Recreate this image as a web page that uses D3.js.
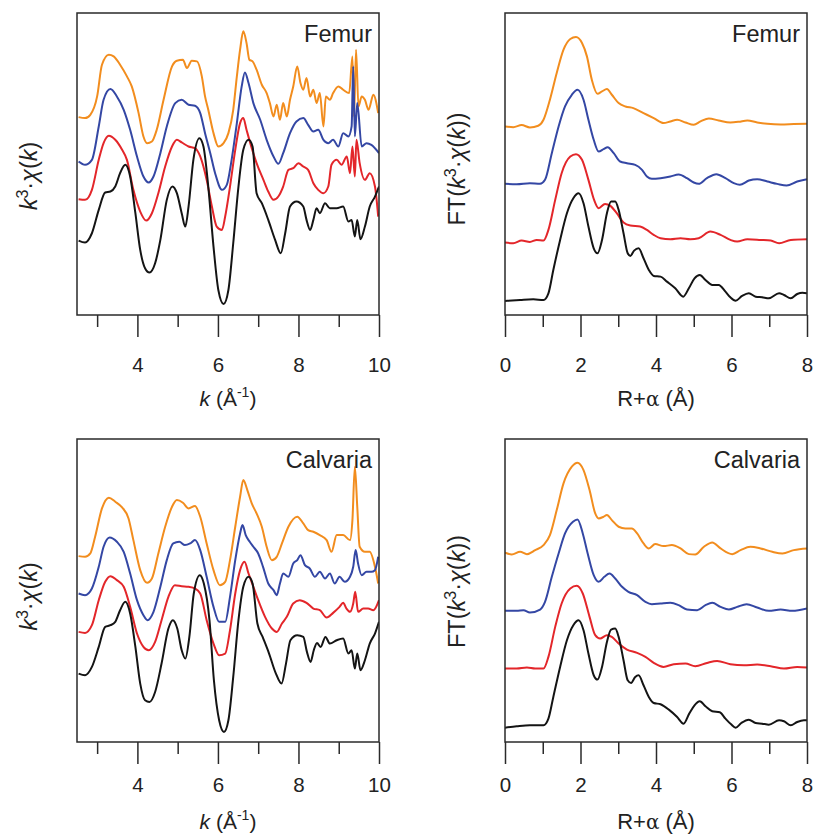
<!DOCTYPE html>
<html>
<head>
<meta charset="utf-8">
<script src="https://cdn.jsdelivr.net/npm/d3@7"></script>
<style>
  html, body { margin: 0; padding: 0; background: #fff; }
  svg { display: block; font-family: "Liberation Sans", Arial, sans-serif; }
</style>
</head>
<body>
<svg id="fig" width="813" height="840"></svg>
<script>
// EXAFS spectra (k-space, k^3-weighted) and their Fourier transforms, stacked with offsets.
// Each series: [x, intensity (a.u., including stacking offset)].
const seriesColors = ["#f28d1e", "#3447a4", "#e3262a", "#141414"]; // orange, blue, red, black

const kMajorTicks = [4, 6, 8, 10];
const kMinorTicks = [3, 5, 7, 9];
const rMajorTicks = [0, 2, 4, 6, 8];
const rMinorTicks = [1, 3, 5, 7];

// ---- Femur, k-space ----
const femurChiOrange = [[2.54,5.93],[2.7,5.90],[2.83,6.00],[3.0,6.55],[3.12,7.50],[3.29,7.80],[3.41,7.75],[3.57,7.50],[3.74,7.15],[3.86,6.85],[4.03,6.05],[4.15,5.35],[4.24,5.15],[4.36,5.20],[4.48,5.55],[4.65,6.45],[4.86,7.45],[4.98,7.62],[5.13,7.65],[5.23,7.40],[5.35,7.62],[5.48,7.60],[5.6,7.15],[5.68,6.55],[5.76,6.15],[5.89,5.45],[6.01,5.05],[6.14,5.15],[6.26,5.45],[6.38,6.15],[6.47,7.15],[6.55,7.95],[6.63,8.50],[6.71,8.15],[6.78,7.65],[6.86,7.60],[6.96,7.35],[7.09,6.90],[7.21,6.65],[7.29,6.35],[7.38,5.95],[7.46,6.30],[7.54,5.85],[7.62,6.35],[7.71,5.95],[7.79,6.45],[7.87,6.85],[7.97,7.45],[8.05,6.95],[8.12,6.75],[8.2,7.10],[8.29,6.55],[8.37,6.75],[8.45,6.35],[8.53,6.65],[8.62,5.65],[8.68,6.55],[8.78,6.45],[8.86,6.65],[8.99,6.85],[9.11,6.75],[9.26,6.65],[9.34,7.75],[9.38,5.95],[9.43,7.95],[9.49,6.25],[9.57,6.55],[9.65,6.45],[9.74,6.15],[9.86,6.60],[9.98,6.05]];
const femurChiBlue = [[2.54,4.60],[2.7,4.50],[2.87,4.65],[3.04,5.65],[3.16,6.45],[3.33,6.77],[3.49,6.55],[3.66,6.15],[3.82,5.55],[3.99,4.75],[4.15,4.15],[4.28,3.97],[4.4,4.15],[4.57,4.85],[4.73,5.65],[4.94,6.35],[5.1,6.45],[5.27,6.30],[5.43,6.27],[5.56,6.05],[5.68,5.45],[5.81,4.85],[5.93,4.25],[6.1,3.75],[6.22,3.90],[6.34,4.65],[6.47,5.75],[6.59,6.85],[6.67,7.27],[6.76,6.95],[6.88,6.35],[7.05,5.85],[7.21,5.25],[7.38,4.75],[7.5,4.53],[7.62,4.85],[7.79,5.45],[7.95,5.80],[8.12,5.90],[8.24,5.70],[8.37,5.50],[8.49,5.55],[8.62,5.25],[8.74,5.15],[8.86,5.25],[8.99,5.05],[9.11,5.45],[9.24,5.35],[9.32,5.65],[9.36,7.45],[9.4,5.35],[9.46,6.35],[9.57,5.05],[9.69,5.15],[9.81,5.10],[10.0,4.85]];
const femurChiRed = [[2.54,3.47],[2.7,3.45],[2.87,3.75],[3.04,4.65],[3.16,5.15],[3.29,5.37],[3.45,5.25],[3.62,4.95],[3.74,4.65],[3.9,3.75],[4.07,3.10],[4.22,2.83],[4.36,3.05],[4.52,3.65],[4.69,4.45],[4.86,5.05],[4.98,5.25],[5.1,5.17],[5.27,5.05],[5.43,5.00],[5.56,4.75],[5.72,4.05],[5.85,3.25],[5.97,2.65],[6.1,2.55],[6.18,2.95],[6.3,3.85],[6.43,4.95],[6.55,5.75],[6.63,5.90],[6.71,5.55],[6.84,5.00],[6.96,4.55],[7.13,4.05],[7.25,3.70],[7.38,3.45],[7.5,3.55],[7.62,3.85],[7.75,4.35],[7.87,4.40],[8.0,4.55],[8.12,4.45],[8.24,4.35],[8.37,3.95],[8.49,3.75],[8.62,3.65],[8.74,3.85],[8.82,4.50],[8.95,4.65],[9.07,4.50],[9.2,4.75],[9.28,4.25],[9.34,5.05],[9.4,4.15],[9.44,5.25],[9.52,4.55],[9.65,4.05],[9.77,4.25],[9.9,3.85],[9.98,2.95]];
const femurChiBlack = [[2.54,2.23],[2.7,2.17],[2.87,2.45],[3.04,3.15],[3.2,3.67],[3.33,3.70],[3.45,3.85],[3.57,4.25],[3.7,4.50],[3.82,4.15],[3.95,3.05],[4.07,1.95],[4.19,1.40],[4.3,1.27],[4.44,1.55],[4.57,2.25],[4.73,3.45],[4.87,3.85],[4.98,3.65],[5.1,3.05],[5.19,2.65],[5.27,3.25],[5.39,4.65],[5.54,5.30],[5.64,5.05],[5.76,3.85],[5.89,2.05],[6.01,0.75],[6.14,0.33],[6.26,0.75],[6.38,2.15],[6.51,3.85],[6.63,4.95],[6.76,5.25],[6.86,5.05],[6.96,3.65],[7.09,3.35],[7.25,2.85],[7.42,2.25],[7.56,1.85],[7.67,2.45],[7.79,3.25],[7.95,3.40],[8.12,3.25],[8.2,2.85],[8.29,2.55],[8.37,2.85],[8.45,3.20],[8.53,3.05],[8.66,3.35],[8.78,3.20],[8.95,3.20],[9.11,3.25],[9.24,2.80],[9.32,2.85],[9.4,2.35],[9.46,2.85],[9.54,2.27],[9.65,2.65],[9.77,3.25],[9.9,3.55],[10.0,3.85]];

// ---- Femur, R-space ----
const femurFtOrange = [[0,5.65],[0.22,5.63],[0.44,5.69],[0.66,5.62],[0.88,5.67],[1.02,5.85],[1.19,6.45],[1.37,7.25],[1.55,7.95],[1.73,8.27],[1.88,8.33],[2.04,8.15],[2.17,7.75],[2.3,7.05],[2.45,6.63],[2.57,6.70],[2.7,6.77],[2.83,6.60],[3.01,6.35],[3.19,6.25],[3.4,6.20],[3.67,6.05],[3.94,5.90],[4.2,5.75],[4.38,5.80],[4.56,5.85],[4.78,5.77],[5.0,5.70],[5.18,5.80],[5.4,5.89],[5.66,5.83],[5.97,5.77],[6.19,5.79],[6.42,5.83],[6.68,5.77],[6.95,5.73],[7.3,5.71],[7.65,5.72],[8.0,5.73]];
const femurFtBlue = [[0,3.93],[0.31,3.92],[0.66,3.95],[0.93,3.93],[1.06,4.05],[1.24,4.85],[1.42,5.65],[1.59,6.25],[1.77,6.60],[1.92,6.75],[2.08,6.45],[2.21,5.85],[2.35,5.25],[2.48,4.90],[2.61,4.97],[2.72,5.03],[2.88,4.85],[3.05,4.60],[3.23,4.55],[3.45,4.50],[3.63,4.35],[3.76,4.15],[3.89,4.08],[4.12,4.10],[4.38,4.15],[4.6,4.21],[4.82,4.10],[5.0,3.97],[5.13,3.93],[5.35,4.10],[5.6,4.22],[5.84,4.10],[6.06,3.95],[6.22,3.90],[6.46,4.03],[6.68,4.07],[6.95,4.00],[7.21,3.93],[7.46,3.88],[7.74,4.00],[8.0,4.07]];
const femurFtRed = [[0,2.17],[0.22,2.15],[0.44,2.23],[0.66,2.19],[0.84,2.25],[1.02,2.23],[1.15,2.55],[1.33,3.45],[1.5,4.25],[1.73,4.75],[1.88,4.82],[2.04,4.65],[2.21,4.05],[2.36,3.45],[2.48,3.20],[2.65,3.33],[2.79,3.27],[2.96,3.05],[3.14,2.77],[3.32,2.68],[3.58,2.65],[3.76,2.55],[3.94,2.40],[4.12,2.30],[4.38,2.27],[4.65,2.30],[4.91,2.27],[5.13,2.30],[5.44,2.50],[5.71,2.40],[5.97,2.25],[6.15,2.20],[6.42,2.27],[6.77,2.25],[7.04,2.23],[7.26,2.15],[7.57,2.25],[8.0,2.27]];
const femurFtBlack = [[0,0.42],[0.4,0.45],[0.75,0.47],[1.02,0.45],[1.15,0.65],[1.28,1.35],[1.46,2.25],[1.64,3.05],[1.81,3.50],[1.95,3.65],[2.08,3.35],[2.21,2.65],[2.35,2.00],[2.45,1.85],[2.57,2.25],[2.7,3.05],[2.81,3.40],[2.92,3.40],[3.01,3.15],[3.14,2.45],[3.25,1.85],[3.32,1.77],[3.42,1.93],[3.54,2.00],[3.67,1.70],[3.81,1.35],[3.94,1.17],[4.12,1.15],[4.29,1.00],[4.51,0.80],[4.72,0.55],[4.87,0.80],[5.02,1.10],[5.16,1.20],[5.31,1.05],[5.49,0.90],[5.66,0.90],[5.84,0.70],[5.97,0.53],[6.11,0.43],[6.28,0.57],[6.46,0.65],[6.64,0.55],[6.81,0.53],[6.99,0.50],[7.26,0.65],[7.39,0.60],[7.57,0.50],[7.74,0.63],[7.88,0.67],[8.0,0.65]];

// ---- Calvaria, k-space ----
const calvariaChiOrange = [[2.54,5.57],[2.7,5.55],[2.83,5.65],[2.95,6.15],[3.12,7.00],[3.29,7.32],[3.45,7.20],[3.62,7.03],[3.78,6.70],[3.9,6.05],[4.07,5.15],[4.24,4.77],[4.36,4.90],[4.52,5.65],[4.69,6.45],[4.86,7.05],[4.98,7.25],[5.13,7.17],[5.27,7.00],[5.43,7.07],[5.56,6.75],[5.72,5.95],[5.89,5.15],[6.05,4.70],[6.18,4.80],[6.3,5.45],[6.43,6.45],[6.55,7.35],[6.63,7.85],[6.73,7.55],[6.84,7.15],[6.96,6.85],[7.09,6.45],[7.21,5.85],[7.34,5.45],[7.46,5.55],[7.59,5.95],[7.75,6.45],[7.97,6.75],[8.12,6.55],[8.24,6.35],[8.37,6.30],[8.53,6.20],[8.7,6.05],[8.82,5.70],[8.95,6.20],[9.11,6.20],[9.28,6.05],[9.34,6.65],[9.4,8.25],[9.46,7.05],[9.52,5.85],[9.65,5.70],[9.77,5.70],[9.9,5.25],[9.98,4.75]];
const calvariaChiBlue = [[2.54,4.45],[2.7,4.40],[2.87,4.60],[3.04,5.25],[3.16,5.85],[3.31,6.13],[3.49,6.00],[3.66,5.70],[3.82,5.05],[3.99,4.25],[4.15,3.80],[4.25,3.65],[4.4,3.90],[4.57,4.65],[4.73,5.45],[4.89,5.95],[5.04,6.00],[5.18,5.90],[5.31,5.95],[5.43,6.05],[5.56,5.75],[5.72,4.95],[5.89,4.05],[6.03,3.60],[6.18,3.60],[6.3,4.35],[6.43,5.45],[6.55,6.25],[6.61,6.50],[6.69,6.20],[6.79,6.00],[6.88,5.85],[7.0,5.65],[7.12,5.25],[7.25,4.75],[7.38,4.55],[7.46,4.40],[7.54,4.75],[7.62,5.05],[7.75,4.95],[7.87,5.35],[7.97,5.45],[8.05,5.60],[8.16,5.30],[8.28,5.20],[8.41,4.95],[8.53,5.10],[8.66,4.90],[8.78,5.05],[8.9,4.75],[9.02,4.95],[9.15,4.80],[9.28,4.95],[9.36,5.25],[9.42,5.75],[9.48,5.35],[9.57,5.00],[9.69,5.10],[9.81,5.10],[9.9,5.15],[9.98,5.55]];
const calvariaChiRed = [[2.54,3.30],[2.7,3.27],[2.87,3.50],[3.04,4.25],[3.2,4.80],[3.33,4.97],[3.49,4.85],[3.66,4.65],[3.82,4.05],[3.99,3.25],[4.15,2.85],[4.28,2.75],[4.44,3.00],[4.6,3.65],[4.77,4.35],[4.93,4.70],[5.1,4.67],[5.27,4.65],[5.43,4.60],[5.56,4.45],[5.72,3.65],[5.89,2.95],[6.03,2.60],[6.18,2.65],[6.3,3.35],[6.43,4.45],[6.55,5.15],[6.66,5.40],[6.76,5.05],[6.88,4.65],[7.0,4.25],[7.17,3.75],[7.34,3.40],[7.46,3.30],[7.59,3.55],[7.71,3.75],[7.87,4.15],[8.03,4.25],[8.2,4.17],[8.37,4.00],[8.53,3.95],[8.7,3.73],[8.86,3.87],[9.02,4.05],[9.11,4.17],[9.19,4.00],[9.28,3.90],[9.36,4.15],[9.41,4.50],[9.48,3.90],[9.61,4.00],[9.73,4.00],[9.86,3.95],[10.0,4.25]];
const calvariaChiBlack = [[2.54,2.05],[2.7,2.00],[2.87,2.25],[3.04,2.85],[3.2,3.45],[3.33,3.50],[3.45,3.60],[3.57,3.95],[3.7,4.20],[3.82,3.85],[3.95,2.85],[4.07,1.75],[4.19,1.25],[4.3,1.20],[4.44,1.50],[4.6,2.35],[4.77,3.40],[4.88,3.65],[4.99,3.40],[5.1,2.75],[5.19,2.50],[5.29,3.15],[5.4,4.45],[5.55,5.00],[5.65,4.75],[5.79,3.65],[5.9,1.85],[6.03,0.65],[6.15,0.30],[6.26,0.65],[6.38,1.95],[6.51,3.65],[6.63,4.65],[6.76,4.95],[6.86,4.75],[6.98,3.55],[7.11,3.15],[7.27,2.65],[7.44,2.05],[7.58,1.75],[7.69,2.35],[7.8,3.05],[7.97,3.20],[8.12,3.15],[8.21,2.70],[8.3,2.40],[8.38,2.75],[8.46,2.97],[8.55,2.85],[8.67,3.15],[8.78,2.95],[8.95,3.05],[9.11,3.10],[9.24,2.65],[9.32,2.75],[9.4,2.20],[9.46,2.65],[9.54,2.15],[9.65,2.45],[9.77,2.95],[9.9,3.25],[10.0,3.60]];

// ---- Calvaria, R-space ----
const calvariaFtOrange = [[0,5.67],[0.18,5.62],[0.4,5.70],[0.58,5.63],[0.8,5.75],[1.02,5.90],[1.19,6.20],[1.37,6.95],[1.55,7.75],[1.77,8.25],[1.92,8.37],[2.08,8.15],[2.24,7.55],[2.39,6.85],[2.48,6.70],[2.61,6.75],[2.7,6.80],[2.83,6.65],[3.01,6.45],[3.19,6.40],[3.36,6.40],[3.5,6.25],[3.67,5.95],[3.81,5.80],[3.98,5.93],[4.2,5.87],[4.42,5.90],[4.65,5.80],[4.87,5.63],[5.04,5.62],[5.27,5.85],[5.49,5.98],[5.71,5.80],[6.02,5.63],[6.24,5.75],[6.5,5.85],[6.77,5.80],[7.08,5.70],[7.35,5.65],[7.65,5.75],[8.0,5.80]];
const calvariaFtBlue = [[0,3.93],[0.31,3.93],[0.49,3.95],[0.66,3.88],[0.93,3.97],[1.06,4.20],[1.24,4.95],[1.42,5.65],[1.59,6.25],[1.8,6.60],[1.92,6.67],[2.06,6.25],[2.19,5.65],[2.35,5.00],[2.48,4.80],[2.63,4.95],[2.77,5.05],[2.92,4.90],[3.1,4.65],[3.27,4.50],[3.5,4.40],[3.72,4.20],[3.89,4.13],[4.12,4.15],[4.38,4.17],[4.6,4.10],[4.82,3.97],[5.09,3.95],[5.31,4.10],[5.49,4.17],[5.71,4.05],[5.93,3.97],[6.15,4.05],[6.4,4.13],[6.68,4.03],[6.99,3.93],[7.3,3.97],[7.61,3.93],[8.0,4.00]];
const calvariaFtRed = [[0,2.20],[0.31,2.20],[0.58,2.23],[0.8,2.20],[1.02,2.20],[1.15,2.55],[1.33,3.45],[1.5,4.15],[1.73,4.60],[1.9,4.68],[2.06,4.45],[2.24,3.75],[2.39,3.20],[2.52,3.10],[2.7,3.20],[2.83,3.15],[3.01,2.95],[3.23,2.77],[3.5,2.67],[3.72,2.55],[3.94,2.37],[4.2,2.25],[4.47,2.33],[4.78,2.35],[5.04,2.27],[5.35,2.37],[5.62,2.43],[5.97,2.33],[6.33,2.30],[6.68,2.32],[7.04,2.27],[7.39,2.20],[7.74,2.25],[8.0,2.23]];
const calvariaFtBlack = [[0,0.43],[0.31,0.47],[0.66,0.50],[1.02,0.50],[1.15,0.70],[1.28,1.35],[1.46,2.25],[1.64,3.05],[1.81,3.50],[1.95,3.65],[2.08,3.35],[2.21,2.65],[2.35,2.00],[2.45,1.87],[2.57,2.25],[2.7,3.00],[2.81,3.37],[2.92,3.40],[3.01,3.15],[3.14,2.45],[3.25,1.85],[3.34,1.77],[3.45,1.95],[3.54,2.00],[3.67,1.70],[3.81,1.35],[3.94,1.17],[4.12,1.13],[4.34,0.97],[4.56,0.75],[4.73,0.55],[4.88,0.85],[5.02,1.10],[5.16,1.22],[5.31,1.07],[5.49,0.92],[5.69,0.89],[5.84,0.70],[5.99,0.53],[6.11,0.43],[6.26,0.57],[6.46,0.67],[6.64,0.57],[6.81,0.55],[6.99,0.52],[7.26,0.65],[7.39,0.62],[7.57,0.50],[7.74,0.60],[7.92,0.65],[8.0,0.65]];

const svg = d3.select("#fig");

// Panel layout (frame box in page pixels)
const colK = { left: 77, right: 379 };
const colR = { left: 505, right: 807 };
const rowTop = { top: 13, bottom: 315, tickLabelPad: 20, titleY: 406, yDomain: [0, 9.05], kLabelShift: 12, ftLabelShift: 5 };
const rowBottom = { top: 439, bottom: 742, tickLabelPad: 13, titleY: 829, yDomain: [0, 9.08], kLabelShift: 6, ftLabelShift: 1 };

function addYLabel(g, x, y, ft) {
  const t = g.append("text")
    .attr("transform", `translate(${x},${y}) rotate(-90)`)
    .attr("text-anchor", "middle")
    .attr("font-size", 23.5)
    .attr("fill", "#222");
  if (ft) t.append("tspan").text("FT(");
  t.append("tspan").attr("font-style", "italic").text("k");
  t.append("tspan").attr("font-size", 16).attr("dy", -9).text("3");
  t.append("tspan").attr("dy", 9).text("·");
  t.append("tspan").attr("font-style", "italic").text("χ");
  t.append("tspan").text("(");
  t.append("tspan").attr("font-style", "italic").text("k");
  t.append("tspan").text(ft ? "))" : ")");
}

function drawPanel(cfg) {
  const { col, row, xDomain, major, minor, series, name, kind } = cfg;
  const x = d3.scaleLinear().domain(xDomain).range([col.left, col.right]);
  const y = d3.scaleLinear().domain(row.yDomain).range([row.bottom, row.top]);
  const g = svg.append("g");

  // clip curves to the frame
  const clipId = "clip-" + name + "-" + kind;
  svg.append("clipPath").attr("id", clipId)
    .append("rect")
    .attr("x", col.left).attr("y", row.top)
    .attr("width", col.right - col.left).attr("height", row.bottom - row.top);

  const line = d3.line()
    .x(d => x(d[0]))
    .y(d => y(d[1]))
    .curve(d3.curveMonotoneX);

  const curves = g.append("g").attr("clip-path", `url(#${clipId})`);
  series.forEach((s, i) => {
    curves.append("path")
      .datum(s)
      .attr("d", line)
      .attr("fill", "none")
      .attr("stroke", seriesColors[i])
      .attr("stroke-width", 2)
      .attr("stroke-linejoin", "round");
  });

  // frame
  g.append("rect")
    .attr("x", col.left).attr("y", row.top)
    .attr("width", col.right - col.left).attr("height", row.bottom - row.top)
    .attr("fill", "none").attr("stroke", "#2a2a2a").attr("stroke-width", 1.5);

  // major ticks with labels
  const axMajor = g.append("g").attr("transform", `translate(0,${row.bottom})`)
    .call(d3.axisBottom(x).tickValues(major).tickSize(22).tickPadding(row.tickLabelPad).tickFormat(d3.format("d")));
  // minor ticks
  const axMinor = g.append("g").attr("transform", `translate(0,${row.bottom})`)
    .call(d3.axisBottom(x).tickValues(minor).tickSize(12).tickFormat(""));
  [axMajor, axMinor].forEach(a => {
    a.select(".domain").remove();
    a.selectAll("line").attr("stroke", "#2a2a2a").attr("stroke-width", 1.5);
  });
  axMajor.selectAll("text")
    .attr("font-size", 20.5)
    .attr("font-family", "'Liberation Sans', Arial, sans-serif")
    .attr("fill", "#222");

  // panel label
  g.append("text")
    .attr("x", col.right - 7).attr("y", row.top + 29)
    .attr("text-anchor", "end")
    .attr("font-size", 23.5)
    .attr("fill", "#222")
    .text(name);

  // axis titles
  const cx = (col.left + col.right) / 2;
  const cy = (row.top + row.bottom) / 2;
  if (kind === "k") {
    const t = g.append("text").attr("x", cx).attr("y", row.titleY)
      .attr("text-anchor", "middle").attr("font-size", 21).attr("fill", "#222");
    t.append("tspan").attr("font-style", "italic").text("k");
    t.append("tspan").text(" (Å");
    t.append("tspan").attr("font-size", 14).attr("dy", -9).text("-1");
    t.append("tspan").attr("dy", 9).text(")");
    addYLabel(g, 37, cy + row.kLabelShift, false);
  } else {
    const t = g.append("text").attr("x", cx).attr("y", row.titleY)
      .attr("text-anchor", "middle").attr("font-size", 22).attr("fill", "#222");
    t.append("tspan").text("R+");
    t.append("tspan").attr("font-family", "'DejaVu Serif', serif").attr("font-size", 20).text("α");
    t.append("tspan").text(" (Å)");
    addYLabel(g, 465, cy + row.ftLabelShift, true);
  }
}

drawPanel({ col: colK, row: rowTop, xDomain: [2.5, 10], major: kMajorTicks, minor: kMinorTicks,
  series: [femurChiOrange, femurChiBlue, femurChiRed, femurChiBlack], name: "Femur", kind: "k" });
drawPanel({ col: colR, row: rowTop, xDomain: [0, 8], major: rMajorTicks, minor: rMinorTicks,
  series: [femurFtOrange, femurFtBlue, femurFtRed, femurFtBlack], name: "Femur", kind: "R" });
drawPanel({ col: colK, row: rowBottom, xDomain: [2.5, 10], major: kMajorTicks, minor: kMinorTicks,
  series: [calvariaChiOrange, calvariaChiBlue, calvariaChiRed, calvariaChiBlack], name: "Calvaria", kind: "k" });
drawPanel({ col: colR, row: rowBottom, xDomain: [0, 8], major: rMajorTicks, minor: rMinorTicks,
  series: [calvariaFtOrange, calvariaFtBlue, calvariaFtRed, calvariaFtBlack], name: "Calvaria", kind: "R" });
</script>
</body>
</html>
